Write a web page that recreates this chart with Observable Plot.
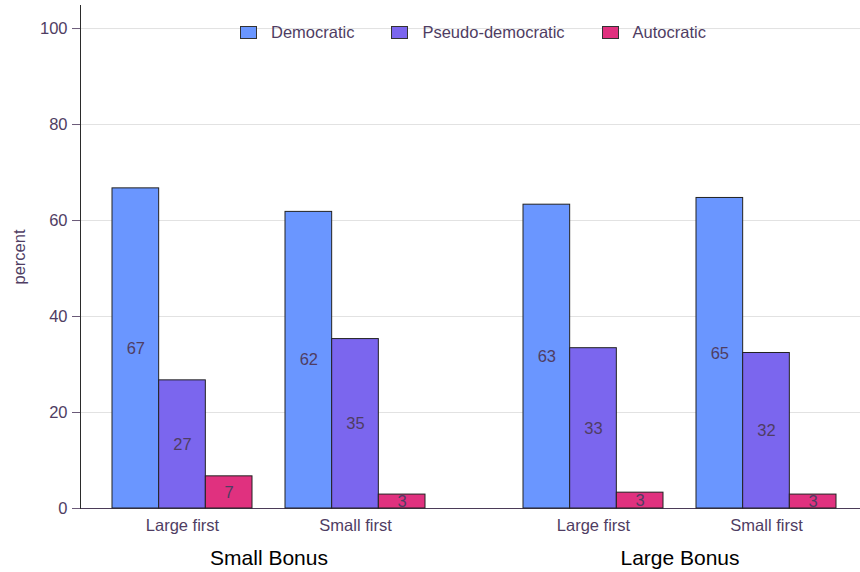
<!DOCTYPE html>
<html><head><meta charset="utf-8">
<script src="https://cdn.jsdelivr.net/npm/d3@7"></script>
<script src="https://cdn.jsdelivr.net/npm/@observablehq/plot@0.6"></script>
<style>
body{margin:0;background:#fff;font-family:"Liberation Sans",Arial,sans-serif;}
#wrap{position:relative;width:860px;height:572px;}
#legend{position:absolute;top:23px;left:240px;display:flex;align-items:center;font-size:16.5px;color:#4f3d63;z-index:2;}
.item{display:flex;align-items:center;margin-right:37px;}
.sw{width:17px;height:13px;border:1px solid #333;box-sizing:border-box;margin-right:14px;}
</style></head><body><div id="wrap"><div id="legend"></div></div>
<script>
const bonuses = ["Small Bonus", "Large Bonus"];
const orders = ["Large first", "Small first"];
const types = ["Democratic", "Pseudo-democratic", "Autocratic"];
const colors = ["#6a96ff", "#7b66ee", "#e0317f"];
// values per group: SB-Large first, SB-Small first, LB-Large first, LB-Small first
const democratic = [66.7, 61.8, 63.3, 64.7];
const pseudo = [26.7, 35.3, 33.4, 32.4];
const autocratic = [6.7, 2.9, 3.3, 2.9];
const yTicks = [0, 20, 40, 60, 80, 100];

const series = [democratic, pseudo, autocratic];
const rows = [];
bonuses.forEach((b, bi) => orders.forEach((o, oi) => {
  const g = bi * orders.length + oi;
  types.forEach((t, ti) => rows.push({bonus: b, order: o, type: t, value: series[ti][g]}));
}));

const W = 860, H = 572, ML = 80, MR = 0;
const textColor = "#4f3d63";
const base = {
  width: W, height: H, marginLeft: ML, marginRight: MR, marginTop: 5, marginBottom: 64,
  style: {fontFamily: "'Liberation Sans', Arial, sans-serif", background: "transparent", overflow: "visible"},
  fx: {domain: bonuses, paddingInner: 42 / 411, paddingOuter: 0},
  x: {domain: orders, paddingInner: 33 / 174, paddingOuter: 0.1552, align: 0.574},
  y: {domain: [0, 104.8]},
  color: {domain: types, range: colors}
};
const probe = Plot.plot({...base, marks: [Plot.barY(rows, {fx: "bonus", x: "order", y: "value"})]});
const bw = probe.scale("x").bandwidth;
const n = types.length;

const marks = [
  Plot.axisY({ticks: yTicks, tickSize: -(W - ML - MR), stroke: "#e2e2e2", strokeOpacity: 1, tickFormat: () => "", label: null}),
  Plot.axisY({ticks: [0], tickSize: -(W - ML - MR), stroke: "#4b3b58", strokeOpacity: 1, tickFormat: () => "", label: null})
];
types.forEach((t, i) => {
  const sub = rows.filter(d => d.type === t);
  marks.push(Plot.barY(sub, {fx: "bonus", x: "order", y: "value", fill: "type", stroke: "#222", strokeWidth: 1,
    insetLeft: i * bw / n, insetRight: (n - 1 - i) * bw / n}));
});
types.forEach((t, i) => {
  const sub = rows.filter(d => d.type === t);
  marks.push(Plot.text(sub, {fx: "bonus", x: "order", y: d => d.value / 2, text: d => Math.round(d.value),
    dx: (i - (n - 1) / 2) * bw / n, fontSize: 16.5, fill: textColor}));
});
marks.push(
  Plot.frame({anchor: "left", fx: [bonuses[0]], stroke: "#2b2b2b"}),
  Plot.axisY({ticks: yTicks, tickSize: 8, tickPadding: 5, fontSize: 16.5, fill: textColor, stroke: "#6a5a78",
    label: "percent", labelAnchor: "center", labelOffset: 67, labelArrow: "none"}),
  Plot.axisX({anchor: "bottom", tickSize: 0, tickPadding: 11, fontSize: 16.5, fill: textColor, label: null}),
  Plot.axisFx({anchor: "bottom", tickSize: 0, tickPadding: 42, fontSize: 21, fill: "black", label: null, dx: 4})
);

const chart = Plot.plot({...base, marks});
const wrap = document.getElementById("wrap");
wrap.appendChild(chart);

const color = chart.scale("color");
const legend = document.getElementById("legend");
types.forEach(t => {
  const item = document.createElement("div");
  item.className = "item";
  const sw = document.createElement("div");
  sw.className = "sw";
  sw.style.background = color.apply(t);
  const lab = document.createElement("span");
  lab.textContent = t;
  item.appendChild(sw); item.appendChild(lab);
  legend.appendChild(item);
});
</script></body></html>
